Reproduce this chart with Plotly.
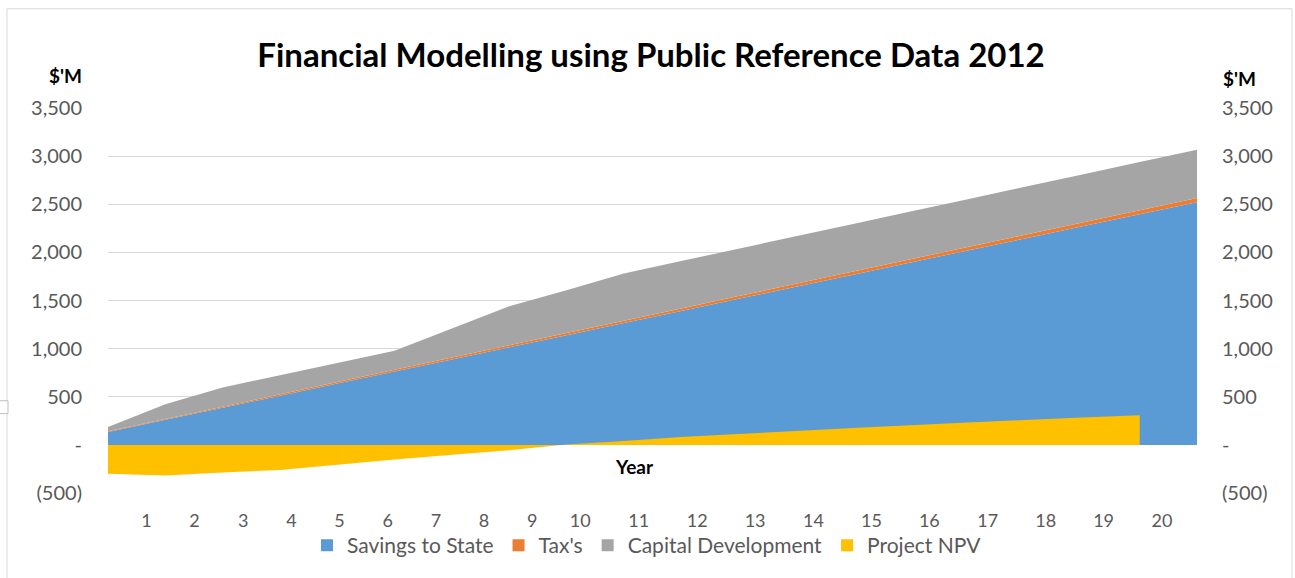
import plotly.graph_objects as go

# values in $'M
years = list(range(1, 21))
savings_to_state = [134, 260, 385, 511, 637, 763, 888, 1014, 1140, 1265,
                    1391, 1517, 1642, 1768, 1894, 2020, 2145, 2271, 2397, 2522]
taxes = [8, 10, 12, 14, 16, 18, 20, 22, 23, 25,
         27, 29, 31, 33, 34, 36, 38, 39, 41, 42]
capital_development = [43, 152, 200, 199, 198, 197, 302, 405, 443, 491,
                       492, 492, 494, 495, 496, 497, 498, 500, 501, 503]
project_npv = [-299, -319, -288, -260, -206, -152, -103, -57, 5, 40,
               82, 113, 145, 175, 205, 232, 258, 284, 309, None]

y_ticks = [-500, 0, 500, 1000, 1500, 2000, 2500, 3000, 3500]
y_tick_text = ["(500)", "-", "500", "1,000", "1,500", "2,000", "2,500", "3,000", "3,500"]

# where the year labels sit along the axis (they are not evenly spaced in the original)
year_label_pos = [1.67, 2.51, 3.36, 4.20, 5.04, 5.88, 6.72, 7.56, 8.40, 9.24,
                  10.26, 11.28, 12.29, 13.31, 14.32, 15.33, 16.35, 17.36, 18.37, 19.39]

FONT = "Lato"
GREY_TEXT = "#595959"
COLORS = {
    "Savings to State": "#5B9BD5",
    "Tax's": "#ED7D31",
    "Capital Development": "#A5A5A5",
    "Project NPV": "#FFC000",
}

W, H = 1295, 578
PLOT_L, PLOT_R, PLOT_T, PLOT_B = 108, 1197, 108, 496  # plot area in pixels


def px(x):
    return (x - PLOT_L) / (PLOT_R - PLOT_L)


def py(y):
    return (PLOT_B - y) / (PLOT_B - PLOT_T)


fig = go.Figure()
fig.add_trace(go.Scatter(x=years, y=savings_to_state, name="Savings to State",
                         stackgroup="one", mode="none", showlegend=False,
                         fillcolor=COLORS["Savings to State"]))
fig.add_trace(go.Scatter(x=years, y=taxes, name="Tax's",
                         stackgroup="one", mode="none", showlegend=False,
                         fillcolor=COLORS["Tax's"]))
fig.add_trace(go.Scatter(x=years, y=capital_development, name="Capital Development",
                         stackgroup="one", mode="none", showlegend=False,
                         fillcolor=COLORS["Capital Development"]))
fig.add_trace(go.Scatter(x=years, y=project_npv, name="Project NPV", yaxis="y2",
                         fill="tozeroy", mode="none", showlegend=False,
                         fillcolor=COLORS["Project NPV"]))

# square legend keys, like the spreadsheet legend
for name, color in COLORS.items():
    fig.add_trace(go.Scatter(x=[None], y=[None], name=name, mode="markers",
                             marker=dict(symbol="square", size=12, color=color)))

y_font = dict(family=FONT, size=20, color=GREY_TEXT)

fig.update_layout(
    width=W,
    height=H,
    margin=dict(l=PLOT_L, r=W - PLOT_R, t=PLOT_T, b=H - PLOT_B),
    paper_bgcolor="white",
    plot_bgcolor="white",
    font=dict(family=FONT, color=GREY_TEXT),
    title=dict(
        text="<b>Financial Modelling using Public Reference Data 2012</b>",
        x=651 / W, xanchor="center", y=1 - 55 / H, yanchor="middle",
        font=dict(family=FONT, size=33, color="black"),
    ),
    xaxis=dict(
        range=[1, 20],
        tickvals=year_label_pos,
        ticktext=[str(y) for y in years],
        tickfont=dict(family=FONT, size=18, color=GREY_TEXT),
        ticks="",
        ticklabelstandoff=15,
        showgrid=False,
        zeroline=False,
        showline=False,
    ),
    yaxis=dict(
        range=[-500, 3500],
        tickvals=y_ticks,
        ticktext=y_tick_text,
        tickfont=y_font,
        showgrid=True,
        gridcolor="#D9D9D9",
        gridwidth=1,
        zeroline=False,
        showline=False,
        ticklabelstandoff=25,
    ),
    yaxis2=dict(
        range=[-500, 3500],
        overlaying="y",
        side="right",
        tickvals=y_ticks,
        ticktext=y_tick_text,
        tickfont=y_font,
        showgrid=False,
        zeroline=False,
        showline=False,
        ticklabelstandoff=24,
    ),
    legend=dict(
        orientation="h",
        x=px(647), xanchor="center",
        y=py(549), yanchor="middle",
        traceorder="normal",
        bgcolor="rgba(0,0,0,0)",
        font=dict(family=FONT, size=21, color=GREY_TEXT),
        itemwidth=30,
    ),
    annotations=[
        dict(text="<b>$'M</b>", x=px(65), y=py(75), xref="paper", yref="paper",
             xanchor="center", yanchor="middle",
             showarrow=False, font=dict(family=FONT, size=19, color="black")),
        dict(text="<b>$'M</b>", x=px(1239), y=py(78), xref="paper", yref="paper",
             xanchor="center", yanchor="middle",
             showarrow=False, font=dict(family=FONT, size=19, color="black")),
        dict(text="<b>Year</b>", x=10.19, y=-226, xref="x", yref="y",
             xanchor="center", yanchor="middle",
             showarrow=False, font=dict(family=FONT, size=19, color="black")),
    ],
    shapes=[
        dict(type="rect", xref="paper", yref="paper",
             x0=px(7), x1=px(1292), y0=py(600), y1=py(8),
             line=dict(color="#D9D9D9", width=1)),
        dict(type="rect", xref="paper", yref="paper",
             x0=px(-2), x1=px(8), y0=py(416), y1=py(403),
             line=dict(color="#BFBFBF", width=1), fillcolor="white"),
    ],
)

# drop the page's default body margin so the figure fills the window exactly
fig.write_html("out.html", config={"displayModeBar": False},
               post_script="document.body.style.margin = '0';")
